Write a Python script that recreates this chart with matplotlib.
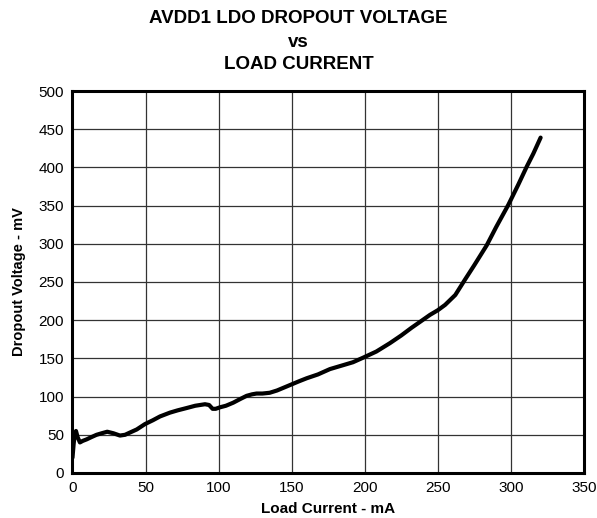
import matplotlib
matplotlib.use('Agg')
import matplotlib.pyplot as plt

plt.rcParams['font.family'] = ['Liberation Sans', 'DejaVu Sans']

# load current (mA) vs dropout voltage (mV)
load_current = [0, 0.8, 1.5, 2.4, 3.5, 5.1, 7.0, 9.7, 13, 16.5, 20, 23.8, 28, 32.5,
                36, 39.4, 44, 49.6, 55, 59.9, 66.7, 72, 78.1, 84, 90.7, 93.5,
                95.9, 98, 101, 105, 110, 115, 119.2, 123, 126, 130, 135, 140,
                145, 150, 155, 160.3, 168, 176.2, 185, 192, 199, 208, 217.3,
                225, 232, 238, 244.7, 250, 255, 262, 268.6, 275, 283.5, 290,
                298.3, 305, 310.9, 315.4, 320.4]
dropout_mv = [20, 38, 50, 55, 47, 40, 42, 44, 47, 50, 52, 54, 52, 49,
              50, 53, 57, 64, 69, 74, 79, 82, 85, 88, 90, 89,
              84, 84, 86, 88, 92, 97, 101, 103, 104, 104, 105, 108,
              112, 116, 120, 124, 129, 136, 141, 145, 151, 159, 170,
              180, 190, 198, 207, 213, 220, 233, 253, 272, 298, 322,
              351, 377, 401, 418, 439]

xticks = [0, 50, 100, 150, 200, 250, 300, 350]
yticks = [0, 50, 100, 150, 200, 250, 300, 350, 400, 450, 500]

fig = plt.figure(figsize=(5.97, 5.18), dpi=100)
ax = fig.add_axes([0.1214, 0.0869, 0.8566, 0.7374])

ax.plot(load_current, dropout_mv, color='black', linewidth=3.0,
        solid_capstyle='round', solid_joinstyle='round', zorder=3)

ax.set_xlim(0, 350)
ax.set_ylim(0, 500)
ax.set_xticks(xticks)
ax.set_yticks(yticks)
ax.tick_params(axis='both', length=0, pad=6, labelsize=11)
ax.grid(True, color='#333333', linewidth=0.9)
for s in ax.spines.values():
    s.set_linewidth(2.2)

ax.set_xlabel('Load Current - mA', fontsize=11, fontweight='bold', labelpad=5)
ax.set_ylabel('Dropout Voltage - mV', fontsize=10.5, fontweight='bold', labelpad=9)

fig.text(0.5, 0.965, 'AVDD1 LDO DROPOUT VOLTAGE', ha='center', va='center',
         fontsize=13.5, fontweight='bold')
fig.text(0.5, 0.917, 'vs', ha='center', va='center', fontsize=13.5, fontweight='bold')
fig.text(0.5, 0.875, 'LOAD CURRENT', ha='center', va='center',
         fontsize=13.5, fontweight='bold')

fig.savefig('out.png', dpi=100)
